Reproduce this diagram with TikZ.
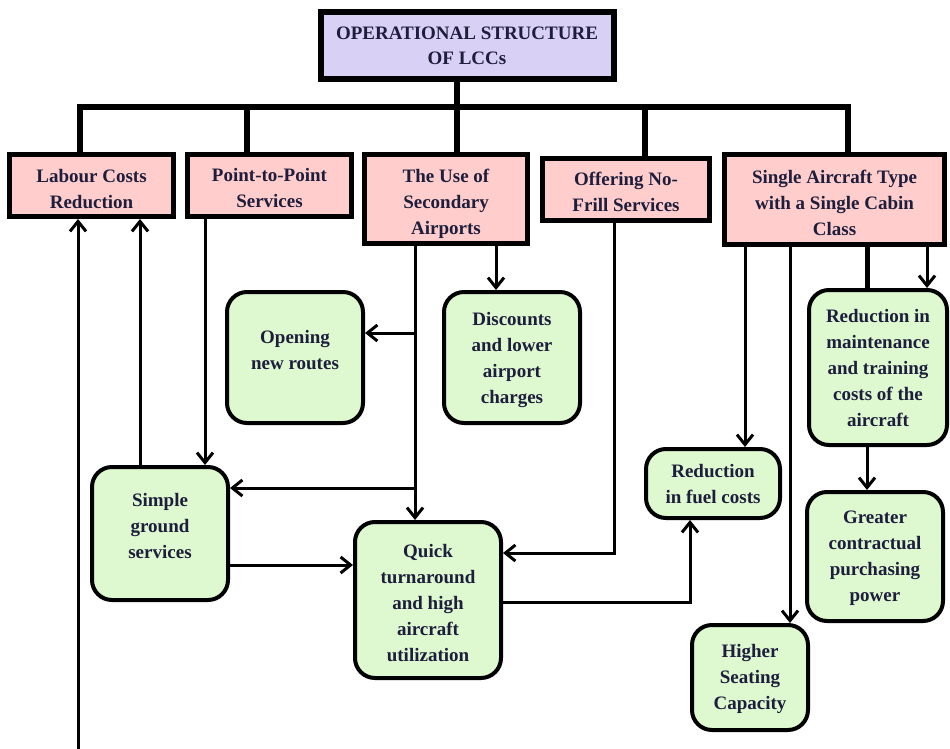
\documentclass[tikz,border=0pt]{standalone}
\usepackage{fontspec}
\setmainfont{Liberation Serif}
\usetikzlibrary{arrows.meta}
\definecolor{pinkfill}{RGB}{255,206,204}
\definecolor{greenfill}{RGB}{222,248,208}
\definecolor{lavfill}{RGB}{216,208,245}
\definecolor{txt}{RGB}{30,30,60}
\begin{document}
\begin{tikzpicture}[x=1pt,y=-1pt,
  every node/.style={inner sep=0pt},
  lbl/.style={font=\fontsize{19}{26}\selectfont\bfseries, text=txt, align=center},
  titlebox/.style={draw=black, line width=6pt, fill=lavfill},
  pinkbox/.style={draw=black, line width=5pt, fill=pinkfill},
  greenbox/.style={draw=black, line width=4pt, fill=greenfill, rounded corners=20pt},
  busline/.style={line width=5.5pt, line join=miter},
  conn/.style={line width=3pt, -{Straight Barb[length=10pt,width=16pt]}},
  thickconn/.style={line width=5pt},
]
\useasboundingbox (0,0) rectangle (950,749);

% title
\node[titlebox, minimum width=293pt, minimum height=67pt] (title) at (467,45.5) {};
\node[lbl, font=\fontsize{19}{25}\selectfont\bfseries] (titleT) at ([yshift=-0.5pt]title.center) {OPERATIONAL STRUCTURE\\OF LCCs};

% first level
\node[pinkbox, minimum width=164pt, minimum height=62pt] (labour) at (91.5,185.5) {};
\node[lbl] (labourT) at ([yshift=-4pt]labour.center) {Labour Costs\\Reduction};
\node[pinkbox, minimum width=164pt, minimum height=62pt] (p2p) at (269.5,185.5) {};
\node[lbl] (p2pT) at ([yshift=-2.5pt]p2p.center) {Point-to-Point\\Services};
\node[pinkbox, minimum width=163pt, minimum height=89pt] (sec) at (446,199) {};
\node[lbl] (secT) at ([yshift=-5pt]sec.center) {The Use of\\Secondary\\Airports};
\node[pinkbox, minimum width=167pt, minimum height=62pt] (nofrill) at (626,189.5) {};
\node[lbl] (nofrillT) at ([yshift=-2pt]nofrill.center) {Offering No-\\Frill Services};
\node[pinkbox, minimum width=220pt, minimum height=90pt] (single) at (834.5,199.5) {};
\node[lbl] (singleT) at ([yshift=-3.5pt]single.center) {Single Aircraft Type\\with a Single Cabin\\Class};

% effects
\node[greenbox, minimum width=136pt, minimum height=131pt] (opening) at (295,357.5) {};
\node[lbl] (openingT) at ([yshift=7pt]opening.center) {Opening\\new routes};
\node[greenbox, minimum width=136pt, minimum height=131pt] (disc) at (512,357.5) {};
\node[lbl] (discT) at ([yshift=-2.5pt]disc.center) {Discounts\\and lower\\airport\\charges};
\node[greenbox, minimum width=136pt, minimum height=133pt] (simple) at (160,533.5) {};
\node[lbl] (simpleT) at ([yshift=8pt]simple.center) {Simple\\ground\\services};
\node[greenbox, minimum width=146pt, minimum height=156pt] (quick) at (428,600) {};
\node[lbl] (quickT) at ([yshift=-3.5pt]quick.center) {Quick\\turnaround\\and high\\aircraft\\utilization};
\node[greenbox, minimum width=134pt, minimum height=69pt] (fuel) at (713,483.5) {};
\node[lbl] (fuelT) at ([yshift=-1pt]fuel.center) {Reduction\\in fuel costs};
\node[greenbox, minimum width=138pt, minimum height=155pt] (maint) at (878,367.5) {};
\node[lbl] (maintT) at (maint.center) {Reduction in\\maintenance\\and training\\costs of the\\aircraft};
\node[greenbox, minimum width=136pt, minimum height=129pt] (greater) at (875,556.5) {};
\node[lbl] (greaterT) at ([yshift=-1.5pt]greater.center) {Greater\\contractual\\purchasing\\power};
\node[greenbox, minimum width=116pt, minimum height=105pt] (higher) at (750,677.5) {};
\node[lbl] (higherT) at ([yshift=-1pt]higher.center) {Higher\\Seating\\Capacity};

% helper coordinates
\coordinate (b1) at (80,107);
\coordinate (b2) at (247,107);
\coordinate (b3) at (457,107);
\coordinate (b4) at (645,107);
\coordinate (b5) at (848,107);
\coordinate (bottomL) at (78,749);
\coordinate (x140) at (140,0);
\coordinate (x205) at (205,0);
\coordinate (x415) at (415,0);
\coordinate (x496) at (496,0);
\coordinate (x614) at (614,0);
\coordinate (x690) at (690,0);
\coordinate (x745) at (745,0);
\coordinate (x790) at (790,0);
\coordinate (x867) at (867,0);
\coordinate (x927) at (927,0);
\coordinate (y333) at (0,333);
\coordinate (y488) at (0,488);
\coordinate (y553) at (0,553);
\coordinate (y565) at (0,565);
\coordinate (y602) at (0,602);

% bus
\draw[busline] (b1 |- labour.north) -- (b1) -- (b5) -- (b5 |- single.north);
\draw[busline] (title.south -| b3) -- (b3 |- sec.north);
\draw[busline] (b2) -- (b2 |- p2p.north);
\draw[busline] (b4) -- (b4 |- nofrill.north);

% connectors
\draw[conn] (bottomL) -- (bottomL |- labour.south);
\draw[conn] (x140 |- simple.north) -- (x140 |- labour.south);
\draw[conn] (x205 |- p2p.south) -- (x205 |- simple.north);
\draw[conn] (x415 |- sec.south) -- (x415 |- quick.north);
\draw[conn] (x415 |- y333) -- (opening.east |- y333);
\draw[conn] (x415 |- y488) -- (simple.east |- y488);
\draw[conn] (x496 |- sec.south) -- (x496 |- disc.north);
\draw[conn] (simple.east |- y565) -- (quick.west |- y565);
\draw[conn] (x614 |- nofrill.south) -- (x614 |- y553) -- (quick.east |- y553);
\draw[conn] (quick.east |- y602) -- (x690 |- y602) -- (x690 |- fuel.south);
\draw[conn] (x745 |- single.south) -- (x745 |- fuel.north);
\draw[conn] (x790 |- single.south) -- (x790 |- higher.north);
\draw[thickconn] (x867 |- single.south) -- (x867 |- maint.north);
\draw[conn] (x927 |- single.south) -- (x927 |- maint.north);
\draw[conn] (x867 |- maint.south) -- (x867 |- greater.north);
\end{tikzpicture}
\end{document}
